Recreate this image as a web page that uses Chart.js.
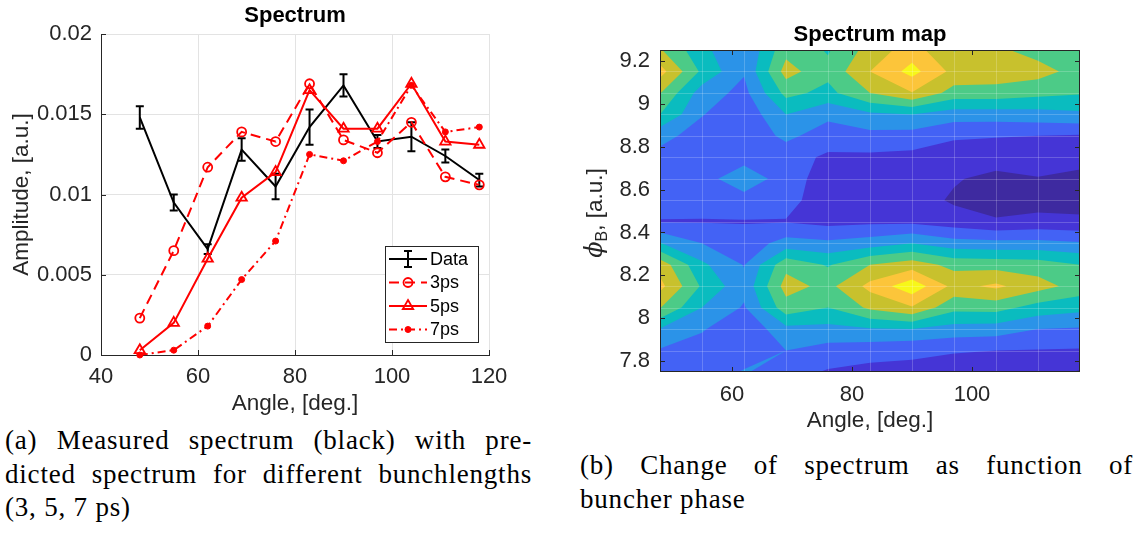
<!DOCTYPE html>
<html>
<head>
<meta charset="utf-8">
<script src="https://cdn.jsdelivr.net/npm/chart.js@4.4.1/dist/chart.umd.min.js"></script>
<style>
  body { margin: 0; width: 1140px; height: 538px; background: #fff; position: relative; overflow: hidden; }
  #c1 { position: absolute; left: 0; top: 0; }
  #c2 { position: absolute; left: 560px; top: 0; }
  .cap { position: absolute; font-family: 'Liberation Serif', serif; font-size: 27px; letter-spacing: 0.8px; color: #000; }
  .cap div { height: 33.5px; line-height: 33.5px; }
  .cap .j { text-align: justify; text-align-last: justify; }
</style>
</head>
<body>
<canvas id="c1" width="540" height="420"></canvas>
<canvas id="c2" width="580" height="440"></canvas>
<div class="cap" style="left:5px; top:424px; width:527px;">
  <div class="j">(a) Measured spectrum (black) with pre-</div>
  <div class="j">dicted spectrum for different bunchlengths</div>
  <div>(3, 5, 7 ps)</div>
</div>
<div class="cap" style="left:580px; top:449px; width:553px;">
  <div class="j">(b) Change of spectrum as function of</div>
  <div>buncher phase</div>
</div>
<script>
// 측정 스펙트럼 + 예측값 (번치 길이별)
const angles = [48, 55, 62, 69, 76, 83, 90, 97, 104, 111, 118];
const measured = [0.0148, 0.0095, 0.0066, 0.0128, 0.0105, 0.0142, 0.0168, 0.0133, 0.0136, 0.0124, 0.0109];
const measuredErr = [0.0007, 0.0005, 0.0003, 0.0007, 0.0008, 0.0011, 0.0007, 0.0004, 0.0009, 0.0004, 0.0004];
const pred3ps = [0.0023, 0.0065, 0.0117, 0.0139, 0.0133, 0.0169, 0.0134, 0.0126, 0.0145, 0.0111, 0.0106];
const pred5ps = [0.0003, 0.0020, 0.0060, 0.0098, 0.0114, 0.0165, 0.0141, 0.0141, 0.0169, 0.0133, 0.0131];
const pred7ps = [0.0000, 0.0003, 0.0018, 0.0047, 0.0071, 0.0125, 0.0121, 0.0133, 0.0168, 0.0139, 0.0142];
const angleTicks = [40, 60, 80, 100, 120];
const ampTicks = [0, 0.005, 0.01, 0.015, 0.02];

// 스펙트럼 맵 (buncher phase 별), 값은 등고선 단계 단위
const phases = [7.75, 7.85, 7.95, 8.05, 8.15, 8.25, 8.35, 8.45, 8.55, 8.65, 8.75, 8.85, 8.95, 9.05, 9.15, 9.25];
const spectrumMap = [
  [2.4, 2.3, 3.1, 2.4, 1.9, 1.7, 1.8, 1.7, 1.6, 1.5, 0.9],
  [2.9, 2.5, 2.3, 3.0, 2.6, 2.4, 2.15, 2.05, 2.0, 1.95, 1.9],
  [3.95, 3.1, 2.2, 3.7, 3.7, 3.9, 4.0, 3.6, 3.5, 3.0, 2.9],
  [6.05, 4.0, 2.9, 5.6, 5.0, 6.2, 6.9, 5.3, 5.4, 4.6, 4.3],
  [7.3, 4.86, 3.3, 6.4, 5.7, 7.3, 8.66, 6.7, 7.2, 6.4, 5.6],
  [6.6, 4.2, 2.95, 5.7, 4.9, 6.0, 6.5, 5.7, 5.6, 5.5, 5.0],
  [4.05, 3.0, 2.4, 3.4, 3.2, 3.5, 4.0, 3.4, 3.3, 3.3, 3.1],
  [1.95, 1.95, 1.95, 1.95, 1.7, 1.8, 1.8, 1.5, 1.1, 1.3, 1.2],
  [2.4, 2.3, 2.5, 2.3, 1.5, 1.4, 1.5, 0.85, 0.6, 0.6, 0.6],
  [2.5, 2.5, 3.8, 2.4, 1.6, 1.4, 1.5, 1.1, 0.7, 0.95, 0.7],
  [2.7, 2.4, 2.5, 2.5, 1.8, 1.8, 1.7, 1.6, 1.5, 1.5, 1.4],
  [3.3, 2.6, 2.4, 3.2, 2.6, 2.7, 2.6, 2.1, 2.05, 2.0, 1.9],
  [5.0, 3.05, 2.3, 4.0, 3.2, 3.8, 4.0, 3.5, 3.5, 3.6, 3.8],
  [6.05, 3.5, 2.7, 5.3, 4.7, 6.0, 6.95, 5.6, 5.6, 5.3, 5.1],
  [7.4, 4.8, 3.1, 6.4, 5.3, 7.0, 8.35, 6.7, 6.6, 6.4, 5.6],
  [6.1, 4.3, 3.0, 5.7, 4.9, 6.4, 7.5, 5.95, 6.2, 5.6, 5.3]
];
const mapLevels = [1, 2, 3, 4, 5, 6, 7, 8];
const mapColors = ['#3e2aa0', '#4535d6', '#4362f5', '#2b93e8', '#0abcbf', '#4ccb87', '#c8c12d', '#fcc53a', '#f7f719'];
const mapTicksX = [60, 80, 100];
const mapTicksY = [7.8, 8, 8.2, 8.4, 8.6, 8.8, 9, 9.2];

Chart.defaults.font.family = "'Liberation Sans', Arial, sans-serif";
Chart.defaults.font.size = 22;
Chart.defaults.color = '#262626';

const axisColor = '#262626';
const labelFont = { size: 22.5 };
const pairs = (ys) => ys.map((v, i) => ({ x: angles[i], y: v }));

// 에러바 (Data 데이터셋 바로 뒤에 그림)
const errorBars = {
	id: 'errorBars',
	afterDatasetDraw(chart, args) {
		if (args.index !== 0) return;
		const { ctx, scales: { x, y } } = chart;
		ctx.save();
		ctx.strokeStyle = '#000';
		ctx.lineWidth = 2;
		for (let i = 0; i < angles.length; i++) {
			const px = x.getPixelForValue(angles[i]);
			const top = y.getPixelForValue(measured[i] + measuredErr[i]);
			const bot = y.getPixelForValue(measured[i] - measuredErr[i]);
			ctx.beginPath();
			ctx.moveTo(px, top); ctx.lineTo(px, bot);
			ctx.moveTo(px - 4, top); ctx.lineTo(px + 4, top);
			ctx.moveTo(px - 4, bot); ctx.lineTo(px + 4, bot);
			ctx.stroke();
		}
		ctx.restore();
	}
};

// 안쪽 방향 눈금
const inwardTicks = {
	id: 'inwardTicks',
	afterDraw(chart) {
		const { ctx, chartArea: a, scales: { x, y } } = chart;
		ctx.save();
		ctx.strokeStyle = axisColor;
		ctx.lineWidth = 1;
		ctx.beginPath();
		angleTicks.forEach(v => {
			const px = Math.round(x.getPixelForValue(v)) + 0.5;
			ctx.moveTo(px, a.bottom); ctx.lineTo(px, a.bottom - 5);
		});
		ampTicks.forEach(v => {
			const py = Math.round(y.getPixelForValue(v)) + 0.5;
			ctx.moveTo(a.left, py); ctx.lineTo(a.left + 5, py);
		});
		ctx.stroke();
		ctx.restore();
	}
};

function drawMarker(ctx, style, x, y, r, filled, color) {
	ctx.beginPath();
	if (style === 'triangle') {
		ctx.moveTo(x, y - r);
		ctx.lineTo(x + r * 0.866, y + r * 0.5);
		ctx.lineTo(x - r * 0.866, y + r * 0.5);
		ctx.closePath();
	} else {
		ctx.arc(x, y, r, 0, Math.PI * 2);
	}
	if (filled) { ctx.fillStyle = color; ctx.fill(); }
	ctx.stroke();
}

// 범례 박스 (플롯 안 오른쪽 아래)
const boxLegend = {
	id: 'boxLegend',
	afterDraw(chart) {
		const { ctx, chartArea: a } = chart;
		const w = 93, h = 96;
		const x0 = Math.round(a.right - 11 - w), y0 = Math.round(a.bottom - 13 - h);
		ctx.save();
		ctx.fillStyle = '#fff';
		ctx.fillRect(x0, y0, w, h);
		ctx.strokeStyle = axisColor;
		ctx.lineWidth = 1;
		ctx.strokeRect(x0 + 0.5, y0 + 0.5, w, h);
		chart.data.datasets.forEach((ds, i) => {
			const cy = y0 + 13 + i * 23.5;
			ctx.strokeStyle = ds.borderColor;
			ctx.lineWidth = 2;
			ctx.setLineDash(ds.borderDash || []);
			ctx.beginPath();
			ctx.moveTo(x0 + 4, cy); ctx.lineTo(x0 + 42, cy);
			ctx.stroke();
			ctx.setLineDash([]);
			const mx = x0 + 23;
			if (i === 0) {
				ctx.beginPath();
				ctx.moveTo(mx, cy - 8); ctx.lineTo(mx, cy + 8);
				ctx.moveTo(mx - 4, cy - 8); ctx.lineTo(mx + 4, cy - 8);
				ctx.moveTo(mx - 4, cy + 8); ctx.lineTo(mx + 4, cy + 8);
				ctx.stroke();
			} else {
				ctx.lineWidth = ds.pointBorderWidth;
				drawMarker(ctx, ds.pointStyle, mx, cy, ds.pointRadius, ds.pointBackgroundColor === '#f00', '#f00');
			}
			ctx.fillStyle = '#000';
			ctx.font = "18px 'Liberation Sans', Arial, sans-serif";
			ctx.textBaseline = 'middle';
			ctx.fillText(ds.label, x0 + 45, cy + 1);
		});
		ctx.restore();
	}
};

new Chart(document.getElementById('c1'), {
	type: 'line',
	data: {
		datasets: [
			{ label: 'Data', data: pairs(measured), borderColor: '#000', borderWidth: 2, pointRadius: 0, order: 4, clip: false },
			{ label: '3ps', data: pairs(pred3ps), borderColor: '#f00', borderWidth: 2, borderDash: [10, 6],
				pointStyle: 'circle', pointRadius: 4.5, pointBorderWidth: 1.8, pointBorderColor: '#f00', pointBackgroundColor: 'rgba(0,0,0,0)', order: 3, clip: false },
			{ label: '5ps', data: pairs(pred5ps), borderColor: '#f00', borderWidth: 2,
				pointStyle: 'triangle', pointRadius: 6, pointBorderWidth: 1.8, pointBorderColor: '#f00', pointBackgroundColor: 'rgba(0,0,0,0)', order: 2, clip: false },
			{ label: '7ps', data: pairs(pred7ps), borderColor: '#f00', borderWidth: 2, borderDash: [8, 4, 2, 4],
				pointStyle: 'circle', pointRadius: 3, pointBorderWidth: 1, pointBorderColor: '#f00', pointBackgroundColor: '#f00', order: 1, clip: false }
		]
	},
	options: {
		responsive: false,
		animation: false,
		layout: { padding: { left: 0, right: 51, top: 0, bottom: 0 } },
		plugins: {
			legend: { display: false },
			tooltip: { enabled: false },
			title: { display: true, text: 'Spectrum', color: '#000', fullSize: false, font: { size: 22, weight: 'bold' }, padding: { top: 2.8, bottom: 4.8 } }
		},
		scales: {
			x: {
				type: 'linear', min: 40, max: 120,
				afterBuildTicks: (s) => { s.ticks = angleTicks.map(v => ({ value: v })); },
				afterFit: (s) => { s.height = 65; },
				grid: { color: '#e3e3e3', drawTicks: false },
				border: { color: axisColor },
				ticks: { padding: 8.8, maxRotation: 0, callback: (v) => String(v) },
				title: { display: true, text: 'Angle, [deg.]', font: labelFont, padding: { top: 0, bottom: 2.5 } }
			},
			y: {
				type: 'linear', min: 0, max: 0.02,
				afterBuildTicks: (s) => { s.ticks = ampTicks.map(v => ({ value: v })); },
				afterFit: (s) => { s.width = 101; },
				grid: { color: '#e3e3e3', drawTicks: false },
				border: { color: axisColor },
				ticks: { padding: 9, callback: (v) => String(v) },
				title: { display: true, text: 'Amplitude, [a.u.]', font: labelFont, padding: { top: 8.5, bottom: 0 } }
			}
		}
	},
	plugins: [errorBars, inwardTicks, boxLegend]
});

// 다각형을 v >= t 쪽으로 자르기 (변 위 선형보간)
function clipPoly(pts, t) {
	const out = [];
	for (let i = 0; i < pts.length; i++) {
		const a = pts[i], b = pts[(i + 1) % pts.length];
		const ain = a.v >= t, bin = b.v >= t;
		if (ain) out.push(a);
		if (ain !== bin) {
			const f = (t - a.v) / (b.v - a.v);
			out.push({ x: a.x + f * (b.x - a.x), y: a.y + f * (b.y - a.y), v: t });
		}
	}
	return out;
}

// 채워진 등고선
const contourFill = {
	id: 'contourFill',
	beforeDatasetsDraw(chart) {
		const { ctx, chartArea: a, scales: { x, y } } = chart;
		const px = angles.map(v => x.getPixelForValue(v));
		const py = phases.map(v => y.getPixelForValue(v));
		ctx.save();
		ctx.beginPath();
		ctx.rect(a.left, a.top, a.right - a.left, a.bottom - a.top);
		ctx.clip();
		for (let k = 0; k < mapColors.length; k++) {
			const t = k === 0 ? -Infinity : mapLevels[k - 1];
			ctx.beginPath();
			for (let j = 0; j < phases.length - 1; j++) {
				for (let i = 0; i < angles.length - 1; i++) {
					const quad = [
						{ x: px[i], y: py[j], v: spectrumMap[j][i] },
						{ x: px[i + 1], y: py[j], v: spectrumMap[j][i + 1] },
						{ x: px[i + 1], y: py[j + 1], v: spectrumMap[j + 1][i + 1] },
						{ x: px[i], y: py[j + 1], v: spectrumMap[j + 1][i] }
					];
					const poly = clipPoly(quad, t);
					if (poly.length < 3) continue;
					ctx.moveTo(poly[0].x, poly[0].y);
					for (let n = 1; n < poly.length; n++) ctx.lineTo(poly[n].x, poly[n].y);
					ctx.closePath();
				}
			}
			ctx.fillStyle = mapColors[k];
			ctx.fill();
		}
		// 격자 이음선 (희미하게)
		ctx.strokeStyle = 'rgba(255,255,255,0.2)';
		ctx.lineWidth = 1;
		ctx.beginPath();
		px.slice(1, -1).forEach(v => { ctx.moveTo(Math.round(v) + 0.5, a.top); ctx.lineTo(Math.round(v) + 0.5, a.bottom); });
		py.slice(1, -1).forEach(v => { ctx.moveTo(a.left, Math.round(v) + 0.5); ctx.lineTo(a.right, Math.round(v) + 0.5); });
		ctx.stroke();
		ctx.restore();
	}
};

// 테두리 + 네 변 안쪽 눈금
const mapBox = {
	id: 'mapBox',
	afterDraw(chart) {
		const { ctx, chartArea: a, scales: { x, y } } = chart;
		ctx.save();
		ctx.strokeStyle = axisColor;
		ctx.lineWidth = 1;
		ctx.strokeRect(Math.round(a.left) + 0.5, Math.round(a.top) + 0.5, Math.round(a.right - a.left) - 1, Math.round(a.bottom - a.top) - 1);
		ctx.beginPath();
		mapTicksX.forEach(v => {
			const p = Math.round(x.getPixelForValue(v)) + 0.5;
			ctx.moveTo(p, a.bottom); ctx.lineTo(p, a.bottom - 5);
			ctx.moveTo(p, a.top); ctx.lineTo(p, a.top + 5);
		});
		mapTicksY.forEach(v => {
			const p = Math.round(y.getPixelForValue(v)) + 0.5;
			ctx.moveTo(a.left, p); ctx.lineTo(a.left + 5, p);
			ctx.moveTo(a.right, p); ctx.lineTo(a.right - 5, p);
		});
		ctx.stroke();
		ctx.restore();
	}
};

// y축 제목: phi_B, [a.u.]
const phiTitle = {
	id: 'phiTitle',
	afterDraw(chart) {
		const { ctx, chartArea: a } = chart;
		const f1 = "italic 24px 'DejaVu Serif', serif";
		const f2 = "16px 'Liberation Sans', Arial, sans-serif";
		const f3 = "22.5px 'Liberation Sans', Arial, sans-serif";
		ctx.save();
		ctx.font = f1; const w1 = ctx.measureText('ϕ').width;
		ctx.font = f2; const w2 = ctx.measureText('B').width;
		ctx.font = f3; const w3 = ctx.measureText(', [a.u.]').width;
		ctx.translate(35, (a.top + a.bottom) / 2 + 2);
		ctx.rotate(-Math.PI / 2);
		ctx.fillStyle = '#262626';
		ctx.textBaseline = 'alphabetic';
		let cx = -(w1 + w2 + w3) / 2;
		ctx.font = f1; ctx.fillText('ϕ', cx, 7); cx += w1;
		ctx.font = f2; ctx.fillText('B', cx, 12); cx += w2;
		ctx.font = f3; ctx.fillText(', [a.u.]', cx, 7);
		ctx.restore();
	}
};

new Chart(document.getElementById('c2'), {
	type: 'scatter',
	data: { datasets: [] },
	options: {
		responsive: false,
		animation: false,
		layout: { padding: { left: 0, right: 60, top: 0, bottom: 0 } },
		plugins: {
			legend: { display: false },
			tooltip: { enabled: false },
			title: { display: true, text: 'Spectrum map', color: '#000', fullSize: false, font: { size: 22, weight: 'bold' }, padding: { top: 21.8, bottom: 1.8 } }
		},
		scales: {
			x: {
				type: 'linear', min: 48, max: 118,
				afterBuildTicks: (s) => { s.ticks = mapTicksX.map(v => ({ value: v })); },
				afterFit: (s) => { s.height = 68; },
				grid: { display: false, drawTicks: false },
				border: { display: false },
				ticks: { padding: 9.8, maxRotation: 0, callback: (v) => String(v) },
				title: { display: true, text: 'Angle, [deg.]', font: labelFont, padding: { top: 0, bottom: 5.5 } }
			},
			y: {
				type: 'linear', min: 7.75, max: 9.25,
				afterBuildTicks: (s) => { s.ticks = mapTicksY.map(v => ({ value: v })); },
				afterFit: (s) => { s.width = 100; },
				grid: { display: false, drawTicks: false },
				border: { display: false },
				ticks: { padding: 10, callback: (v) => String(v) }
			}
		}
	},
	plugins: [contourFill, mapBox, phiTitle]
});
</script>
</body>
</html>
